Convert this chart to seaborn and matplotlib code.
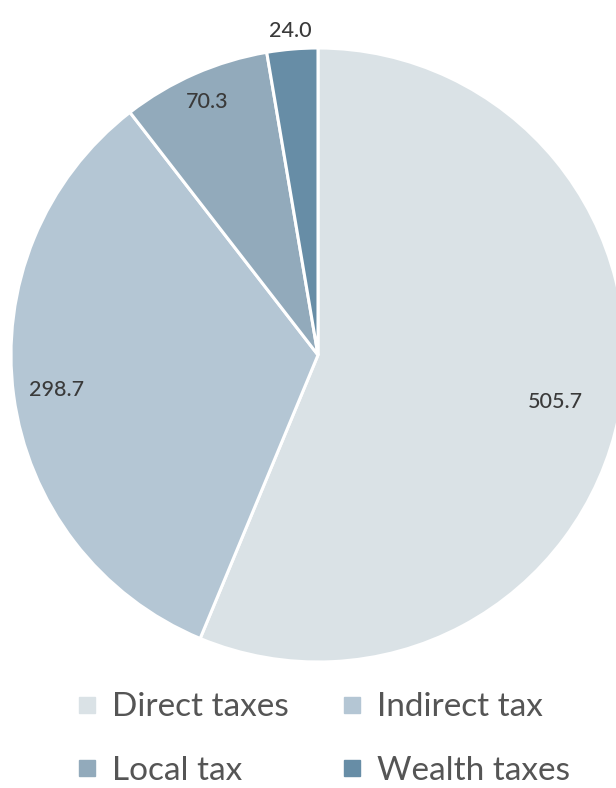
import numpy as np
import seaborn as sns
import matplotlib.pyplot as plt
from matplotlib.lines import Line2D

# Tax revenue breakdown
categories = ["Direct taxes", "Indirect tax", "Local tax", "Wealth taxes"]
values = [505.7, 298.7, 70.3, 24.0]
value_labels = ["505.7", "298.7", "70.3", "24.0"]
colors = ["#DAE2E6", "#B4C6D4", "#92AABB", "#678DA6"]
label_radius = [0.79, 0.86, 0.90, 1.06]

sns.set_theme(style="white")
plt.rcParams['font.family'] = ['Lato', 'DejaVu Sans']

fig = plt.figure(figsize=(6.16, 7.88), dpi=100)
W, H = 616, 788
cx, cy, r = 318, 355, 307
ax = fig.add_axes([(cx - r) / W, (H - cy - r) / H, 2 * r / W, 2 * r / H])

palette = sns.color_palette(colors)
wedges, _ = ax.pie(values, colors=palette, startangle=90, counterclock=False,
                   radius=1, wedgeprops=dict(edgecolor="white", linewidth=2.2))
for w in wedges:
    w.set_clip_on(False)
ax.set_xlim(-1, 1)
ax.set_ylim(-1, 1)
ax.set_aspect("equal")
ax.axis("off")

for w, lab, rr in zip(wedges, value_labels, label_radius):
    ang = np.deg2rad((w.theta1 + w.theta2) / 2)
    ax.text(rr * np.cos(ang), rr * np.sin(ang), lab, ha="center", va="center",
            fontsize=15.5, fontweight="medium", color="#3a3a3a", clip_on=False)

handles = [Line2D([0], [0], marker="s", linestyle="", markersize=12,
                  markerfacecolor=c, markeredgecolor=c) for c in colors]
# legend fills column by column; reorder so rows read left to right
order = [0, 2, 1, 3]
fig.legend([handles[i] for i in order], [categories[i] for i in order],
           ncol=2, frameon=False, loc="center",
           bbox_to_anchor=(0.522, (H - 739) / H), fontsize=24, labelcolor="#555555",
           handletextpad=0.35, columnspacing=1.5, labelspacing=1.0, handlelength=0.8)

fig.savefig("out.png", dpi=100)
